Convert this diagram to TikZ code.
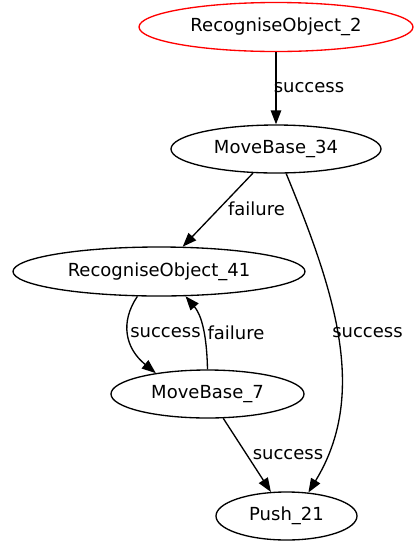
\documentclass[tikz,border=0pt]{standalone}
\usepackage{fontspec}
\setmainfont{DejaVu Sans}
\usetikzlibrary{shapes.geometric,arrows.meta}

\tikzset{
  state/.style={ellipse, draw=black, line width=1.33pt, inner sep=0pt,
    font=\fontsize{18}{22}\selectfont},
  start/.style={state, draw=red},
  edge/.style={line width=1.33pt, -{Triangle[length=14pt,width=10.5pt]}},
  elabel/.style={font=\fontsize{18}{22}\selectfont, inner sep=0pt}
}

\begin{document}
\begin{tikzpicture}[x=1pt,y=-1pt]
  \useasboundingbox (0,0) rectangle (414,542);

  % states
  \node[start, minimum width=274pt, minimum height=49pt] (ro2)  at (276,27)    {RecogniseObject\_2};
  \node[state, minimum width=210pt, minimum height=48pt] (mb34) at (276,149)   {MoveBase\_34};
  \node[state, minimum width=292pt, minimum height=49pt] (ro41) at (159,271.5) {RecogniseObject\_41};
  \node[state, minimum width=193pt, minimum height=48pt] (mb7)  at (207.5,394) {MoveBase\_7};
  \node[state, minimum width=141pt, minimum height=48pt] (push) at (286.5,516) {Push\_21};

  % transitions
  \draw[edge] (ro2) -- (mb34);
  \draw[edge] (mb34) -- (ro41);
  \draw[edge] (mb34) .. controls (336,294) and (368,395) .. (push.47);
  \draw[edge] (ro41.229) .. controls (120,322) and (125,348) .. (mb7.158);
  \draw[edge] (mb7.90) .. controls (207,345) and (204,318) .. (ro41.-43);
  \draw[edge] (mb7) -- (push);

  % transition labels
  \node[elabel] (l1) at (309,88)    {success};
  \node[elabel] (l2) at (256.5,209) {failure};
  \node[elabel] (l3) at (367.5,333) {success};
  \node[elabel] (l4) at (165.5,333) {success};
  \node[elabel] (l5) at (236,333)   {failure};
  \node[elabel] (l6) at (288,455)   {success};
\end{tikzpicture}
\end{document}
